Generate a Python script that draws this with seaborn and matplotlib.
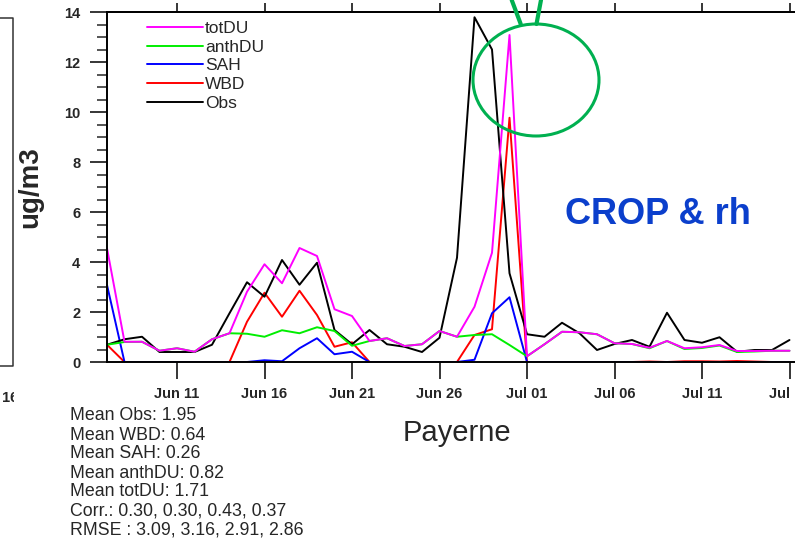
import matplotlib
matplotlib.use("Agg")
import matplotlib.pyplot as plt
import matplotlib.dates as mdates
from matplotlib.patches import Ellipse, Rectangle
from matplotlib.lines import Line2D
from matplotlib.ticker import MultipleLocator
import numpy as np
import pandas as pd
import seaborn as sns

# Daily dust concentrations at Payerne (ug/m3)
dates = pd.date_range("2019-06-07", periods=40, freq="D")

obs = [0.69, 0.91, 1.01, 0.40, 0.40, 0.40, 0.69, 1.95, 3.19, 2.61,
       4.08, 3.09, 3.97, 1.28, 0.71, 1.28, 0.71, 0.61, 0.40, 0.97,
       4.17, 13.79, 12.50, 3.55, 1.11, 1.01, 1.57, 1.15, 0.48, 0.72,
       0.88, 0.61, 1.97, 0.88, 0.77, 0.99, 0.41, 0.48, 0.48, 0.88]

wbd = [0.69, 0.00, 0.00, 0.00, 0.00, 0.00, 0.00, 0.00, 1.61, 2.77,
       1.81, 2.85, 1.88, 0.61, 0.79, 0.00, 0.00, 0.00, 0.00, 0.00,
       0.00, 1.08, 1.31, 9.77, 0.00, 0.00, 0.00, 0.00, 0.00, 0.00,
       0.00, 0.02, 0.00, 0.03, 0.03, 0.02, 0.04, 0.02, 0.00, 0.00]

sah = [3.08, 0.00, 0.00, 0.00, 0.00, 0.00, 0.00, 0.00, 0.00, 0.07,
       0.03, 0.55, 0.95, 0.31, 0.41, 0.00, 0.00, 0.00, 0.00, 0.00,
       0.00, 0.09, 1.95, 2.59, 0.00, 0.00, 0.00, 0.00, 0.00, 0.00,
       0.00, 0.00, 0.00, 0.00, 0.00, 0.00, 0.00, 0.00, 0.00, 0.00]

anthdu = [0.69, 0.80, 0.81, 0.45, 0.55, 0.41, 0.91, 1.15, 1.13, 1.01,
          1.27, 1.15, 1.39, 1.24, 0.65, 0.84, 0.95, 0.64, 0.71, 1.24,
          1.01, 1.08, 1.11, 0.68, 0.23, 0.71, 1.21, 1.19, 1.11, 0.75,
          0.72, 0.55, 0.84, 0.52, 0.56, 0.66, 0.40, 0.42, 0.45, 0.45]

totdu = [4.55, 0.81, 0.81, 0.45, 0.55, 0.41, 0.91, 1.15, 2.81, 3.91,
         3.15, 4.56, 4.24, 2.11, 1.84, 0.84, 0.95, 0.64, 0.71, 1.24,
         1.01, 2.21, 4.37, 13.08, 0.23, 0.71, 1.21, 1.19, 1.11, 0.75,
         0.72, 0.57, 0.84, 0.55, 0.59, 0.68, 0.44, 0.44, 0.45, 0.45]

series_names = ["totDU", "anthDU", "SAH", "WBD", "Obs"]
series_colors = {"totDU": "#ff00ff", "anthDU": "#00ee00", "SAH": "#0000ff",
                 "WBD": "#ff0000", "Obs": "#000000"}
draw_order = ["WBD", "SAH", "Obs", "anthDU", "totDU"]

stats_lines = ["Mean Obs: 1.95", "Mean WBD: 0.64", "Mean SAH: 0.26",
               "Mean anthDU: 0.82", "Mean totDU: 1.71",
               "Corr.: 0.30, 0.30, 0.43, 0.37",
               "RMSE : 3.09, 3.16, 2.91, 2.86"]

df = pd.DataFrame({"date": dates, "totDU": totdu, "anthDU": anthdu,
                   "SAH": sah, "WBD": wbd, "Obs": obs})
long_df = df.melt(id_vars="date", var_name="series", value_name="value")

sns.set_style("white")
plt.rcParams["font.family"] = ["Liberation Sans", "DejaVu Sans"]

W, H = 795, 541
fig = plt.figure(figsize=(W / 100, H / 100), dpi=100)
ax = fig.add_axes([107 / W, 1 - 362 / H, (805 - 107) / W, 350 / H])

handles = {}
for name in draw_order:
    sub = long_df[long_df["series"] == name]
    sns.lineplot(data=sub, x="date", y="value", ax=ax, color=series_colors[name],
                 linewidth=1.4, label=name, legend=False)
    handles[name] = ax.lines[-1]

start = dates[0]
ax.set_xlim(start, start + pd.Timedelta(days=(805 - 107) / 17.5))
ax.set_ylim(0, 14)

ax.xaxis.set_major_locator(mdates.DayLocator(bymonthday=[1, 6, 11, 16, 21, 26]))
ax.xaxis.set_major_formatter(mdates.DateFormatter("%b %d"))
ax.yaxis.set_major_locator(MultipleLocator(2))
ax.yaxis.set_minor_locator(MultipleLocator(0.5))

ax.set_xlabel("")
ax.set_ylabel("")
for s in ax.spines.values():
    s.set_linewidth(1.4)
    s.set_color("black")
ax.spines["right"].set_visible(False)

ax.tick_params(axis="x", which="major", direction="out", length=12.2, width=1.3,
               pad=6, labelsize=10.5, bottom=True)
ax.tick_params(axis="y", which="major", direction="out", length=12.2, width=1.3,
               pad=7, labelsize=10.5, left=True)
ax.tick_params(axis="y", which="minor", direction="out", length=7.2, width=1.1,
               left=True)
for lab in ax.get_xticklabels() + ax.get_yticklabels():
    lab.set_fontweight("bold")

top = ax.secondary_xaxis("top")
top.xaxis.set_major_locator(mdates.DayLocator(bymonthday=[1, 6, 11, 16, 21, 26]))
top.tick_params(axis="x", direction="out", length=6.8, width=1.3, labeltop=False)
top.spines["top"].set_linewidth(1.4)

leg = ax.legend([handles[n] for n in series_names], series_names,
                loc="upper left", bbox_to_anchor=(147 / W, 1 - 21 / H),
                bbox_transform=fig.transFigure, frameon=False, fontsize=12.5,
                handlelength=3.25, handletextpad=0.1, labelspacing=0.2,
                borderpad=0, borderaxespad=0)

fig.text(30 / W, 1 - 187 / H, "ug/m3", rotation=90, ha="center", va="center",
         fontsize=20, fontweight="bold")
fig.text(457 / W, 1 - 433 / H, "Payerne", ha="center", va="center", fontsize=21)
fig.text(658 / W, 1 - 215 / H, "CROP & rh", ha="center", va="center",
         fontsize=26, fontweight="bold", color="#0b3fcc")

baselines = [420.5, 439.5, 458.5, 477.5, 496.5, 515.5, 534.5]
for line, yb in zip(stats_lines, baselines):
    fig.text(70 / W, 1 - yb / H, line, ha="left", va="baseline", fontsize=12.8)

# green highlight ellipse with pointer strokes
green = "#00b050"
fig.add_artist(Ellipse((536 / W, 1 - 80 / H), 126 / W, 112 / H,
                       transform=fig.transFigure, fill=False, ec=green, lw=2.2))
fig.add_artist(Line2D([511.7 / W, 520.7 / W], [1.0, 1 - 24 / H],
                      transform=fig.transFigure, color=green, lw=3))
fig.add_artist(Line2D([541 / W, 536.5 / W], [1.0, 1 - 24 / H],
                      transform=fig.transFigure, color=green, lw=3))

# edge of the neighbouring panel
fig.add_artist(Line2D([0, 13 / W, 13 / W, 0], [1 - 18 / H, 1 - 18 / H, 1 - 366 / H, 1 - 366 / H],
                      transform=fig.transFigure, color="#333333", lw=1.1))
clip = Rectangle((0, 0), 14 / W, 1, transform=fig.transFigure)
t = fig.text(-23 / W, 1 - 398 / H, "Jul 16", ha="left", va="center",
             fontsize=10.5, fontweight="bold")
t.set_clip_path(clip)

fig.savefig("out.png", dpi=100)
